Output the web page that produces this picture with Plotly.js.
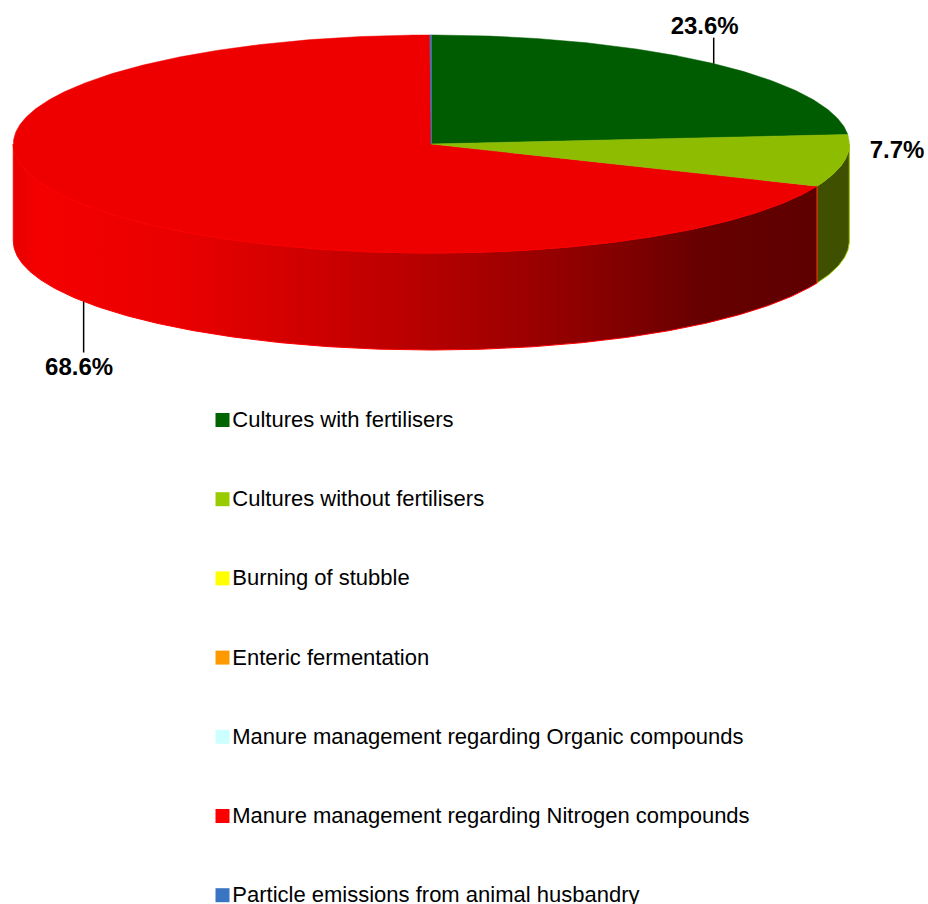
<!DOCTYPE html>
<html><head><meta charset="utf-8">
<script src="https://cdn.plot.ly/plotly-3.0.1.min.js"></script>
<style>html,body{margin:0;padding:0;background:#fff;overflow:hidden}</style>
</head><body><div id="chart" style="width:928px;height:904px"></div>
<script>
const categories = ["Cultures with fertilisers","Cultures without fertilisers","Burning of stubble","Enteric fermentation","Manure management regarding Organic compounds","Manure management regarding Nitrogen compounds","Particle emissions from animal husbandry"];
const shares = [23.6, 7.7, 0, 0, 0, 68.6, 0.05];
const legendColors = ["#006400","#99CC00","#FFFF00","#FF9900","#CCFFFF","#FF0000","#3A75C4"];
const topColors = ["#005C00","#8DBC00","#FFFF00","#FF9900","#CCFFFF","#EE0000","#4A6FA8"];

const W=928,H=904,CX=431.3,CY=144,RX=418,RY=109,DEPTH=97/109,ROW=79.2,ROW0=420;
const FONT='"Liberation Sans", Arial, sans-serif';
const ptX=t=>Math.sin(t*Math.PI/180), ptY=t=>-Math.cos(t*Math.PI/180);
const total=shares.reduce((a,b)=>a+b,0);
let acc=0; const spans=shares.map(v=>{const s=acc/total*360; acc+=v; return [s,acc/total*360];});
function arc(a,b){const n=Math.max(2,Math.ceil((b-a)*2)),o=[];for(let i=0;i<=n;i++)o.push(a+(b-a)*i/n);return o;}
const traces=[];
function wall(a,b,fill,line,grad){
  const ts=arc(a,b), rev=ts.slice().reverse();
  const t={x:ts.map(ptX).concat(rev.map(ptX)),y:ts.map(ptY).concat(rev.map(v=>ptY(v)+DEPTH)),mode:'lines',fill:'toself',line:{color:line,width:1},hoverinfo:'skip',showlegend:false};
  t.x.push(t.x[0]);t.y.push(t.y[0]);
  if(grad) t.fillgradient={type:'horizontal',colorscale:grad}; else t.fillcolor=fill;
  traces.push(t);
}
// visible outer walls: front half of the disc only (90 to 270 degrees)
const wallGrad=[[0,'#E80000'],[0.03,'#F40000'],[0.2,'#EA0000'],[0.35,'#D20000'],[0.5,'#B80000'],[0.7,'#900000'],[0.86,'#660000'],[1,'#5E0000']];
wall(Math.max(90,spans[1][0]),spans[1][1],'#3F5000','#A0C800');
wall(spans[5][0],Math.min(270,spans[5][1]),null,'#FF0000',wallGrad);
// top faces
[5,0,1,6].forEach(i=>{
  const ts=arc(spans[i][0],spans[i][1]);
  traces.push({x:[0].concat(ts.map(ptX),[0]),y:[0].concat(ts.map(ptY),[0]),mode:'lines',fill:'toself',fillcolor:topColors[i],
    line:{color:topColors[i],width:i===6?1:0.5},hoverinfo:'skip',showlegend:false});
});
// bright front rim of the red slice
{const ts=arc(spans[5][0],Math.min(270,spans[5][1]));
 traces.push({x:ts.map(ptX),y:ts.map(ptY),mode:'lines',line:{color:'#FF0000',width:1},opacity:0.7,hoverinfo:'skip',showlegend:false});}
// leader lines + labels
const pct=v=>v.toFixed(1)+'%';
function label(i,x,y){traces.push({x:[x],y:[y],mode:'text',text:['<b>'+pct(shares[i])+'</b>'],textposition:'middle center',textfont:{family:FONT,size:24,color:'#000'},cliponaxis:false,hoverinfo:'skip',showlegend:false});}
{ const m=(spans[0][0]+spans[0][1])/2,x=ptX(m),y=ptY(m);
  traces.push({x:[x,x],y:[y,y-26/RY],mode:'lines',line:{color:'#000',width:1.5},hoverinfo:'skip',showlegend:false});
  label(0,x-9/RX,(28-CY)/RY);
}
{ label(1,(897-CX)/RX,(152-CY)/RY); }
{ const m=(spans[5][0]+spans[5][1])/2,x=ptX(m),y=ptY(m)+DEPTH;
  traces.push({x:[x,x],y:[y,y+51/RY],mode:'lines',line:{color:'#000',width:1.5},hoverinfo:'skip',showlegend:false});
  label(5,x-4.5/RX,(369-CY)/RY);
}
// legend rows
categories.forEach((c,i)=>{
  traces.push({x:[222.5],y:[i],xaxis:'x2',yaxis:'y2',mode:'markers',marker:{symbol:'square',size:14,color:legendColors[i]},cliponaxis:false,hoverinfo:'skip',showlegend:false});
  traces.push({x:[232.3],y:[i+1.5/ROW],xaxis:'x2',yaxis:'y2',mode:'text',text:[c],textposition:'middle right',textfont:{family:FONT,size:22,color:'#000'},cliponaxis:false,hoverinfo:'skip',showlegend:false});
});
const hide={visible:false,fixedrange:true};
Plotly.newPlot('chart',traces,{
  width:W,height:H,margin:{l:0,r:0,t:0,b:0},paper_bgcolor:'#fff',plot_bgcolor:'#fff',showlegend:false,
  xaxis:{...hide,range:[-CX/RX,(W-CX)/RX]},
  yaxis:{...hide,range:[(H-CY)/RY,-CY/RY]},
  xaxis2:{...hide,range:[0,W],overlaying:'x'},
  yaxis2:{...hide,range:[(H-ROW0)/ROW,-ROW0/ROW],overlaying:'y'}
},{staticPlot:true,displayModeBar:false});
</script></body></html>
